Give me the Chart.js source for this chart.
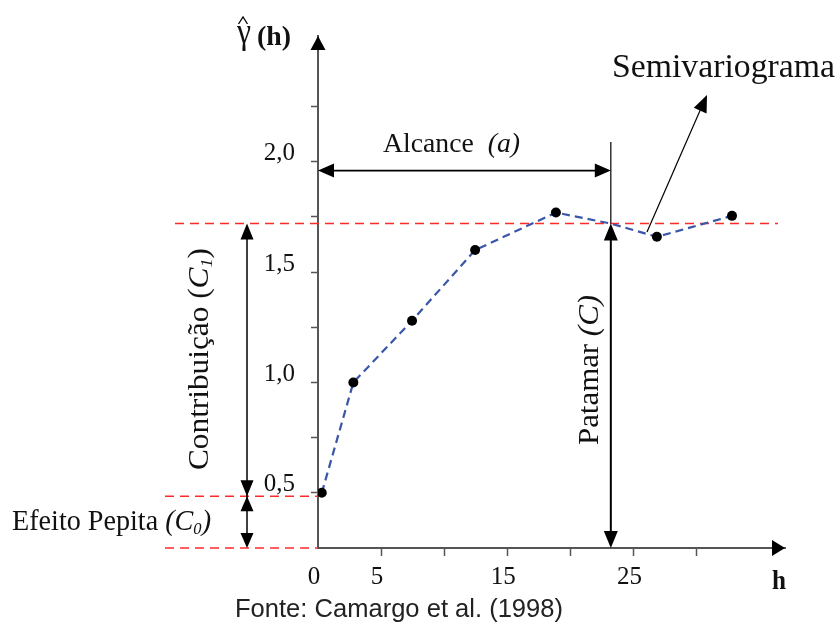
<!DOCTYPE html>
<html>
<head>
<meta charset="utf-8">
<script src="https://cdn.jsdelivr.net/npm/chart.js@4.4.1/dist/chart.umd.min.js"></script>
<style>
  html, body { margin: 0; padding: 0; background: #fff; }
  canvas { display: block; }
</style>
</head>
<body>
<canvas id="semivario" width="840" height="624"></canvas>
<script>
// lag distance h and semivariance
var lagH = [0.3, 2.8, 7.45, 12.45, 18.85, 23.2, 26.85, 32.8];
var gammaH = [0.50, 1.00, 1.28, 1.60, 1.77, 1.72, 1.66, 1.755];
var markerSize = [5, 5, 5, 5, 5, 0, 5, 5];
var xTickLabels = [0, 5, 15, 25];
var yTickLabels = [0.5, 1.0, 1.5, 2.0];
var sill = 1.72;      // patamar (C)
var nugget = 0.485;   // efeito pepita (C0)
var range = 23.2;     // alcance (a)
var rangeLevel = 1.96;

var serif = '"Liberation Serif", "Times New Roman", serif';

function head(ctx, x1, y1, x2, y2, len, wid) {
    var a = Math.atan2(y2 - y1, x2 - x1);
    var c = Math.cos(a), s = Math.sin(a);
    ctx.beginPath();
    ctx.moveTo(x2, y2);
    ctx.lineTo(x2 - len * c + wid / 2 * s, y2 - len * s - wid / 2 * c);
    ctx.lineTo(x2 - len * c - wid / 2 * s, y2 - len * s + wid / 2 * c);
    ctx.closePath();
    ctx.fill();
}

function line(ctx, x1, y1, x2, y2) {
    ctx.beginPath();
    ctx.moveTo(x1, y1);
    ctx.lineTo(x2, y2);
    ctx.stroke();
}

// draws text runs with mixed fonts, stretched to a given width
function drawRuns(ctx, runs, x, y, w) {
    var total = 0;
    runs.forEach(function (r) { ctx.font = r.font; r.w = ctx.measureText(r.t).width; total += r.w; });
    var k = w ? w / total : 1;
    ctx.save();
    ctx.translate(x, y);
    ctx.scale(k, 1);
    var cx = 0;
    runs.forEach(function (r) { ctx.font = r.font; ctx.fillText(r.t, cx, r.dy || 0); cx += r.w; });
    ctx.restore();
}

var guides = {
    id: 'guides',
    beforeDatasetsDraw: function (chart) {
        var ctx = chart.ctx, xs = chart.scales.x, ys = chart.scales.y;
        var ax = xs.left, ay = ys.bottom;
        ctx.save();
        ctx.strokeStyle = '#ff2b2b';
        ctx.lineWidth = 1.5;
        ctx.setLineDash([9, 6]);
        line(ctx, 175, ys.getPixelForValue(sill), 778, ys.getPixelForValue(sill));
        line(ctx, 165, ys.getPixelForValue(nugget), ax, ys.getPixelForValue(nugget));
        line(ctx, 165, ay, ax, ay);
        ctx.restore();
    },
    afterDraw: function (chart) {
        var ctx = chart.ctx, xs = chart.scales.x, ys = chart.scales.y;
        var ax = xs.left, ay = ys.bottom;
        var sy = ys.getPixelForValue(sill), ny = ys.getPixelForValue(nugget);
        var rx = xs.getPixelForValue(range), ry = ys.getPixelForValue(rangeLevel);
        ctx.save();
        ctx.fillStyle = '#000';
        ctx.strokeStyle = '#000';

        // axis arrowheads
        head(ctx, ax, ay, ax, ys.top, 14, 15);
        head(ctx, ax, ay, xs.right, ay, 13, 16);

        // contribuicao and efeito pepita
        var cx = ax - 71;
        ctx.lineWidth = 1.5;
        line(ctx, cx, sy + 4, cx, ay - 4);
        head(ctx, cx, ny, cx, sy, 16, 13);
        head(ctx, cx, sy, cx, ny, 16, 13);
        head(ctx, cx, ay, cx, ny, 15, 13);
        head(ctx, cx, ny, cx, ay, 15, 13);

        // patamar
        ctx.lineWidth = 2;
        line(ctx, rx, sy + 4, rx, ay - 4);
        head(ctx, rx, ay, rx, sy, 17, 14);
        head(ctx, rx, sy, rx, ay, 17, 14);
        ctx.lineWidth = 1.2;
        line(ctx, rx, 142, rx, sy);

        // alcance
        ctx.lineWidth = 1.8;
        line(ctx, ax + 4, ry, rx - 4, ry);
        head(ctx, rx, ry, ax, ry, 16, 14);
        head(ctx, ax, ry, rx, ry, 16, 14);

        // semivariograma pointer
        ctx.lineWidth = 1.2;
        line(ctx, 647, 232, 702, 106);
        head(ctx, 647, 232, 707, 95, 17, 14);

        // hat over gamma
        ctx.lineWidth = 1.3;
        ctx.beginPath();
        ctx.moveTo(238.5, 24); ctx.lineTo(243, 17); ctx.lineTo(247.5, 24);
        ctx.stroke();

        ctx.textBaseline = 'alphabetic';
        ctx.fillStyle = '#111';
        drawRuns(ctx, [{ t: 'γ', font: '36px ' + serif }], 237, 43, 14);
        drawRuns(ctx, [{ t: '(h)', font: 'bold 27px ' + serif }], 257, 45, 34);

        drawRuns(ctx, [{ t: 'Semivariograma', font: '33px ' + serif }], 612, 77, 223);
        drawRuns(ctx, [{ t: 'Alcance  ', font: '28px ' + serif }, { t: '(a)', font: 'italic 28px ' + serif }], 383, 152, 137);
        drawRuns(ctx, [
            { t: 'Efeito Pepita ', font: '29px ' + serif },
            { t: '(C', font: 'italic 29px ' + serif },
            { t: '0', font: 'italic 17px ' + serif, dy: 4 },
            { t: ')', font: 'italic 29px ' + serif }
        ], 12, 530, 199);
        drawRuns(ctx, [{ t: 'h', font: 'bold 28px ' + serif }], 772, 589, 14);

        ctx.save();
        ctx.translate(208, 470);
        ctx.rotate(-Math.PI / 2);
        drawRuns(ctx, [
            { t: 'Contribuição (', font: '29px ' + serif },
            { t: 'C', font: 'italic 29px ' + serif },
            { t: '1', font: 'italic 17px ' + serif, dy: 4 },
            { t: ')', font: '29px ' + serif }
        ], 0, 0, 222);
        ctx.restore();

        ctx.save();
        ctx.translate(598, 445);
        ctx.rotate(-Math.PI / 2);
        drawRuns(ctx, [{ t: 'Patamar ', font: '30px ' + serif }, { t: '(C)', font: 'italic 30px ' + serif }], 0, 0, 150);
        ctx.restore();

        ctx.fillStyle = '#222';
        drawRuns(ctx, [{ t: 'Fonte: Camargo et al. (1998)', font: '25px "Liberation Sans", Arial, sans-serif' }], 235, 617, 328);
        ctx.restore();
    }
};

function hideAxisTick(ctx) {
    return ctx.tick && (ctx.tick.value === 0 || ctx.tick.value === 0.25) ? 'rgba(0,0,0,0)' : '#555';
}

var chart = new Chart(document.getElementById('semivario').getContext('2d'), {
    type: 'scatter',
    data: {
        datasets: [{
            data: lagH.map(function (h, i) { return { x: h, y: gammaH[i] }; }),
            showLine: true,
            borderColor: '#3a56a8',
            borderWidth: 2.2,
            borderDash: [8, 5],
            pointRadius: markerSize,
            pointBackgroundColor: '#000',
            pointBorderColor: '#000',
            pointBorderWidth: 0
        }]
    },
    options: {
        responsive: false,
        animation: false,
        layout: { padding: { left: 0, top: 36, right: 55, bottom: 0 } },
        plugins: { legend: { display: false }, tooltip: { enabled: false } },
        scales: {
            x: {
                type: 'linear',
                min: 0,
                max: 37,
                afterFit: function (s) { s.height = 76; },
                afterBuildTicks: function (s) { s.ticks = s.ticks.filter(function (t) { return t.value <= 30; }); },
                grid: { drawOnChartArea: false, tickLength: 8, tickWidth: 1.5, tickColor: hideAxisTick },
                border: { color: '#555', width: 2 },
                ticks: {
                    stepSize: 5,
                    autoSkip: false,
                    maxRotation: 0,
                    padding: 6,
                    labelOffset: -4,
                    color: '#111',
                    font: { family: serif, size: 25 },
                    callback: function (v) { return xTickLabels.indexOf(v) >= 0 ? String(v) : ''; }
                }
            },
            y: {
                type: 'linear',
                min: 0.25,
                max: 2.57,
                afterFit: function (s) { s.width = 318; },
                afterBuildTicks: function (s) { s.ticks = s.ticks.filter(function (t) { return t.value <= 2.3; }); },
                grid: { drawOnChartArea: false, tickLength: 7, tickWidth: 1.5, tickColor: hideAxisTick },
                border: { color: '#555', width: 2 },
                ticks: {
                    stepSize: 0.25,
                    autoSkip: false,
                    padding: 16,
                    labelOffset: -8,
                    color: '#111',
                    font: { family: serif, size: 25 },
                    callback: function (v) { return yTickLabels.indexOf(v) >= 0 ? v.toFixed(1).replace('.', ',') : ''; }
                }
            }
        }
    },
    plugins: [guides]
});
</script>
</body>
</html>
